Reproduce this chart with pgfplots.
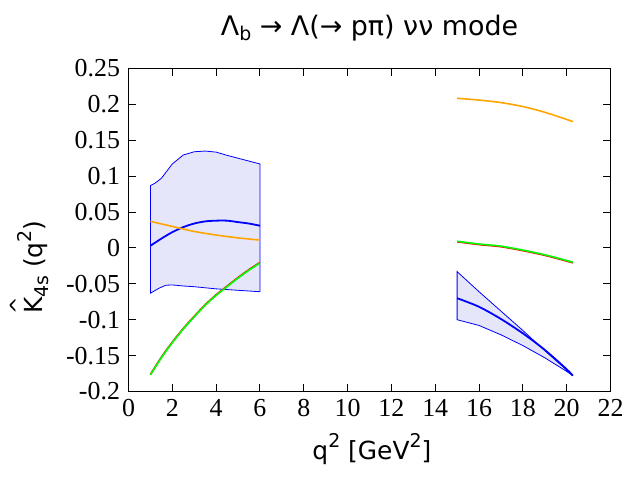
\documentclass[border=0pt]{standalone}
\usepackage{fontspec}
\setmainfont{Liberation Serif}
\newfontfamily\dejavu{DejaVu Sans}
\usepackage{pgfplots}
\pgfplotsset{compat=1.18}
\definecolor{bandfill}{RGB}{230,230,250}
\definecolor{myorange}{RGB}{255,165,0}
\definecolor{mygreen}{RGB}{0,255,0}
\newcommand\subs[1]{\raisebox{-0.22em}{\fontsize{19}{19}\selectfont #1}}
\newcommand\sups[1]{\raisebox{0.45em}{\fontsize{19}{19}\selectfont #1}}
\newcommand\hatK{\ooalign{K\cr\hidewidth\raisebox{17bp}{\fontsize{21}{21}\selectfont\char"5E}\hidewidth\cr}}
\begin{document}
\begin{tikzpicture}
\useasboundingbox (-128.5bp,-88.5bp) rectangle (511.5bp,391.5bp);
\begin{axis}[at={(0,0)}, anchor=south west, scale only axis,
  width=482bp, height=323bp,
  xmin=0, xmax=22, ymin=-0.2, ymax=0.25,
  xtick={0,2,4,6,8,10,12,14,16,18,20,22},
  xticklabels={0,2,4,6,8,10,12,14,16,18,20,22},
  ytick={-0.2,-0.15,-0.1,-0.05,0,0.05,0.1,0.15,0.2,0.25},
  yticklabels={-0.2,-0.15,-0.1,-0.05,0,0.05,0.1,0.15,0.2,0.25},
  tick align=inside, major tick length=7.5bp, minor tick num=0,
  tick style={line width=1bp, black},
  axis line style={line width=1.5bp},
  ticklabel style={font=\fontsize{26}{26}\selectfont},
  yticklabel style={xshift=-5bp},
  xticklabel style={yshift=-4bp},
  title={Λ\subs{b} → Λ(→ pπ) νν mode},
  title style={at={(axis description cs:0.5,1.085)}, anchor=base, font=\dejavu\fontsize{27}{27}\selectfont},
  xlabel={q\sups{2} [GeV\sups{2}]},
  xlabel style={at={(axis description cs:0.505,-0.209)}, anchor=base, font=\dejavu\fontsize{25}{25}\selectfont},
  ylabel={\hatK\subs{4s} (q\sups{2})},
  ylabel style={at={(axis description cs:-0.198,0.385)}, anchor=center, font=\dejavu\fontsize{25}{25}\selectfont},
]
% left band
\addplot[fill=bandfill, draw=blue, line width=0.8bp] coordinates {
(1.0,0.087) (1.2,0.090) (1.5,0.097) (1.75,0.107) (2.0,0.117) (2.5,0.1295) (3.0,0.134) (3.5,0.135) (4.0,0.1335) (4.5,0.129) (5.0,0.125) (5.5,0.121) (6.0,0.117)
(6.0,-0.061) (5.0,-0.059) (4.0,-0.057) (3.0,-0.054) (2.5,-0.053) (2.0,-0.0515) (1.7,-0.052) (1.4,-0.056) (1.0,-0.063) (1.0,0.087)
} -- cycle;
% right band
\addplot[fill=bandfill, draw=blue, line width=0.8bp] coordinates {
(15,-0.033) (16,-0.061) (17,-0.088) (18,-0.115) (19,-0.143) (20,-0.170) (20.28,-0.178)
(20,-0.172) (19,-0.153) (18,-0.136) (17,-0.121) (16,-0.108) (15,-0.100) (15,-0.033)
} -- cycle;
% central blue
\addplot[blue, line width=1.8bp, smooth] coordinates {
(1.0,0.003) (1.5,0.013) (2.0,0.022) (2.5,0.029) (3.0,0.034) (3.5,0.037) (4.0,0.038) (4.5,0.038) (5.0,0.036) (5.5,0.034) (6.0,0.031)
};
\addplot[blue, line width=1.8bp, smooth] coordinates {
(15,-0.070) (16,-0.082) (17,-0.099) (18,-0.119) (19,-0.142) (20,-0.169) (20.28,-0.178)
};
% orange
\addplot[myorange, line width=1.6bp, smooth] coordinates {
(1.0,0.037) (2.0,0.030) (3.0,0.023) (4.0,0.018) (5.0,0.014) (6.0,0.011)
};
\addplot[myorange, line width=1.6bp, smooth] coordinates {
(15,0.2085) (16,0.2060) (17,0.2025) (18,0.1970) (19,0.1890) (20,0.1790) (20.28,0.1760)
};
% red (under green)
\addplot[red, line width=1.6bp, smooth] coordinates {
(1,-0.1762) (1.5,-0.1522) (2,-0.1312) (2.5,-0.1122) (3,-0.0952) (3.5,-0.0792) (4,-0.0652) (4.5,-0.0532) (5,-0.0412) (5.5,-0.0302) (6,-0.0202)
};
\addplot[red, line width=1.6bp, smooth] coordinates {
(15,0.0085) (16,0.0047) (17,0.0017) (18,-0.0038) (19,-0.0103) (20,-0.0183) (20.28,-0.0207)
};
% green
\addplot[mygreen, line width=1.6bp, smooth] coordinates {
(1,-0.177) (1.5,-0.153) (2,-0.132) (2.5,-0.113) (3,-0.096) (3.5,-0.080) (4,-0.066) (4.5,-0.054) (5,-0.042) (5.5,-0.031) (6,-0.021)
};
\addplot[mygreen, line width=1.6bp, smooth] coordinates {
(15,0.0093) (16,0.0055) (17,0.0025) (18,-0.0030) (19,-0.0095) (20,-0.0175) (20.28,-0.0199)
};
\end{axis}
\end{tikzpicture}
\end{document}
